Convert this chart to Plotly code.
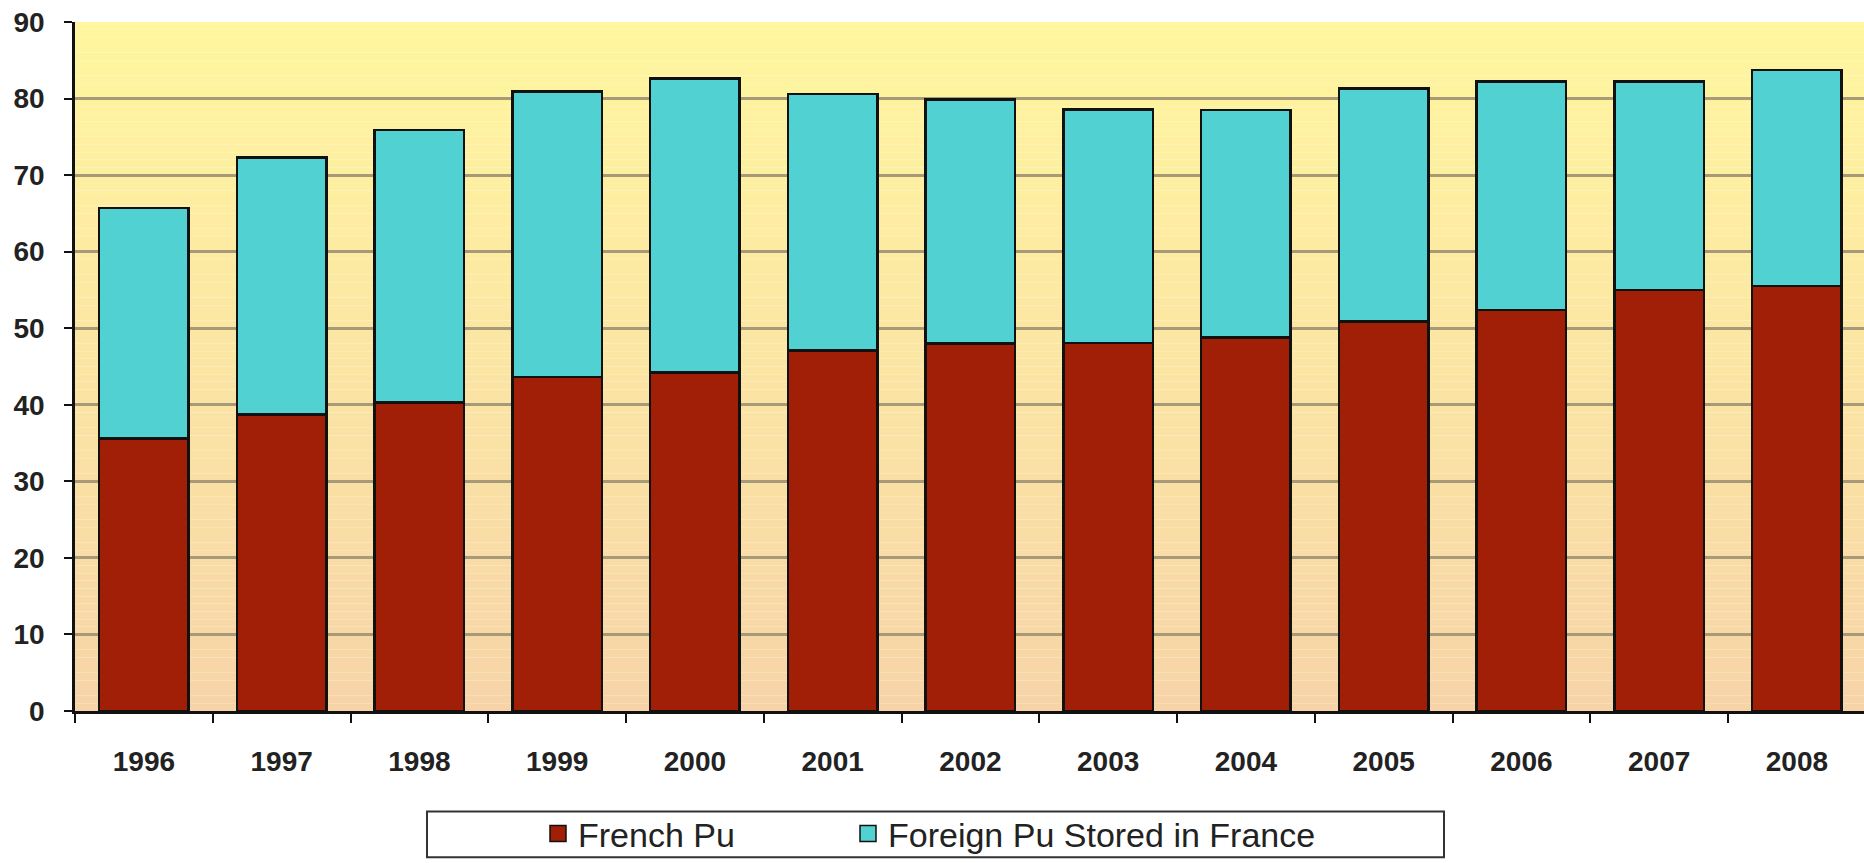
import plotly.graph_objects as go

# Plutonium stocks held in France (tonnes), 1996-2008
years = ["1996", "1997", "1998", "1999", "2000", "2001", "2002",
         "2003", "2004", "2005", "2006", "2007", "2008"]
french_pu = [35.6, 38.7, 40.3, 43.6, 44.2, 47.1, 48.0,
             48.1, 48.8, 50.9, 52.4, 55.0, 55.5]
foreign_pu = [30.1, 33.6, 35.6, 37.3, 38.4, 33.5, 31.9,
              30.5, 29.7, 30.4, 29.8, 27.2, 28.2]
y_ticks = [0, 10, 20, 30, 40, 50, 60, 70, 80, 90]

RED = "#A11E07"
CYAN = "#52D1D2"
EDGE = "#111111"
FONT = "Liberation Sans, Arial, sans-serif"

W, H = 1864, 863
LEFT, TOP, BOTTOM = 75, 22, 148
PW, PH = W - LEFT, H - TOP - BOTTOM


def px_x(px):
    return (px - LEFT) / PW


def px_y(py):
    return -(py - (H - BOTTOM)) / PH


fig = go.Figure()

fig.add_trace(go.Bar(
    x=years, y=french_pu, name="French Pu",
    marker=dict(color=RED, line=dict(color=EDGE, width=2.5)),
    width=0.65, showlegend=False,
))
fig.add_trace(go.Bar(
    x=years, y=foreign_pu, name="Foreign Pu Stored in France",
    marker=dict(color=CYAN, line=dict(color=EDGE, width=2.5)),
    width=0.65, showlegend=False,
))

# legend keys, one legend box per series so each can be placed freely
for name, col, leg in [("French Pu", RED, "legend"),
                       ("Foreign Pu Stored in France", CYAN, "legend2")]:
    fig.add_trace(go.Scatter(
        x=[None], y=[None], mode="markers", name=name, legend=leg,
        marker=dict(symbol="square", size=16, color=col,
                    line=dict(color=EDGE, width=1.5)),
    ))

# vertical yellow-to-peach gradient behind the plot
top_rgb = (255, 246, 158)
bot_rgb = (247, 212, 168)
n = 90
shapes = []
for i in range(n):
    t = i / (n - 1)
    c = tuple(round(b + (a - b) * t) for a, b in zip(top_rgb, bot_rgb))
    shapes.append(dict(
        type="rect", xref="x domain", yref="y domain",
        x0=0, x1=1, y0=i / n, y1=(i + 1) / n,
        fillcolor="rgb(%d,%d,%d)" % c, line=dict(width=0), layer="below",
    ))

# legend frame
shapes.append(dict(
    type="rect", xref="paper", yref="paper",
    x0=px_x(427), x1=px_x(1444), y0=px_y(862), y1=px_y(816),
    line=dict(color="#333333", width=2), fillcolor="white", layer="below",
))

legend_common = dict(
    orientation="h", xanchor="left", yanchor="middle", y=px_y(839),
    bgcolor="rgba(0,0,0,0)", borderwidth=0,
    font=dict(family=FONT, size=34, color="#222222"),
)

fig.update_layout(
    width=W, height=H,
    margin=dict(l=LEFT, r=0, t=TOP, b=BOTTOM, pad=0),
    paper_bgcolor="white",
    plot_bgcolor="rgba(0,0,0,0)",
    barmode="stack",
    shapes=shapes,
    showlegend=True,
    legend=dict(x=px_x(538), **legend_common),
    legend2=dict(x=px_x(848), **legend_common),
    xaxis=dict(
        type="category", range=[-0.5, 12.487],
        showline=True, linecolor="#111111", linewidth=2.5,
        ticks="outside", ticklen=9, tickwidth=2, tickcolor="#111111",
        tickson="boundaries", showgrid=False,
        tickfont=dict(family=FONT, size=28, color="#222222", weight=700),
        ticklabelstandoff=24,
    ),
    yaxis=dict(
        range=[0, 90], tickvals=y_ticks,
        showline=True, linecolor="#111111", linewidth=2.5,
        ticks="outside", ticklen=8, tickwidth=2, tickcolor="#111111",
        showgrid=True, gridcolor="#A69A78", gridwidth=2.5,
        zeroline=False,
        tickfont=dict(family=FONT, size=28, color="#222222", weight=700),
        ticklabelstandoff=14,
    ),
)

fig.write_html("out.html")
